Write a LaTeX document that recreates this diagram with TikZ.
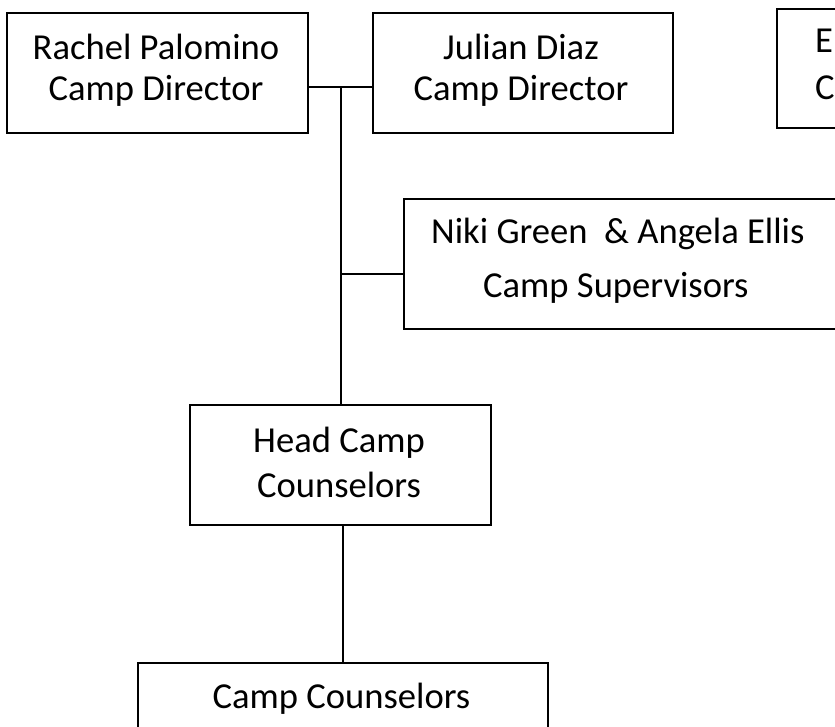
\documentclass[tikz,border=0pt]{standalone}
\usepackage{fontspec}
\setmainfont{Carlito}
\begin{document}
\begin{tikzpicture}[x=1pt,y=-1pt,
  box/.style={draw=black, line width=1.6pt, rectangle, inner sep=0pt, fill=white},
  txt/.style={anchor=base, inner sep=0pt, font=\fontsize{36.6}{40}\selectfont}
]
\useasboundingbox (0,0) rectangle (835,727);
\clip (0,0) rectangle (835,727);
% boxes
\node[box, minimum width=301pt, minimum height=120pt] (rachel) at (157.5,73) {};
\node[box, minimum width=300pt, minimum height=120pt] (julian) at (523,73) {};
\node[box, minimum width=200pt, minimum height=119pt] (exec) at (877,68.5) {};
\node[box, minimum width=500pt, minimum height=130pt] (sup) at (654,264) {};
\node[box, minimum width=301pt, minimum height=120pt] (head) at (340.5,465) {};
\node[box, minimum width=410pt, minimum height=100pt] (cc) at (343,713) {};
% texts
\node[txt] (rachelA) at (156,60) {Rachel Palomino};
\node[txt] (rachelB) at (156,101) {Camp Director};
\node[txt] (julianA) at (521,60) {Julian Diaz};
\node[txt] (julianB) at (521,101) {Camp Director};
\node[txt, anchor=base west] (execA) at (815,53) {E};
\node[txt, anchor=base west] (execB) at (815,100) {C};
\node[txt, anchor=base west] (supA) at (431,244) {Niki Green\ \ \& Angela Ellis};
\node[txt, anchor=base west] (supB) at (483,298) {Camp Supervisors};
\node[txt] (headA) at (339,452) {Head Camp};
\node[txt] (headB) at (339,497) {Counselors};
\node[txt] (ccA) at (341.5,708) {Camp Counselors};
% connectors
\coordinate (j1) at (341,87);
\coordinate (j2) at (341,274);
\begin{scope}[line width=1.6pt]
\draw (rachel.east |- j1) -- (julian.west |- j1);
\draw (j1) -- (head.north -| j1);
\draw (j2) -- (sup.west |- j2);
\draw (cc.north |- head.south) -- (cc.north);
\end{scope}
\end{tikzpicture}
\end{document}
